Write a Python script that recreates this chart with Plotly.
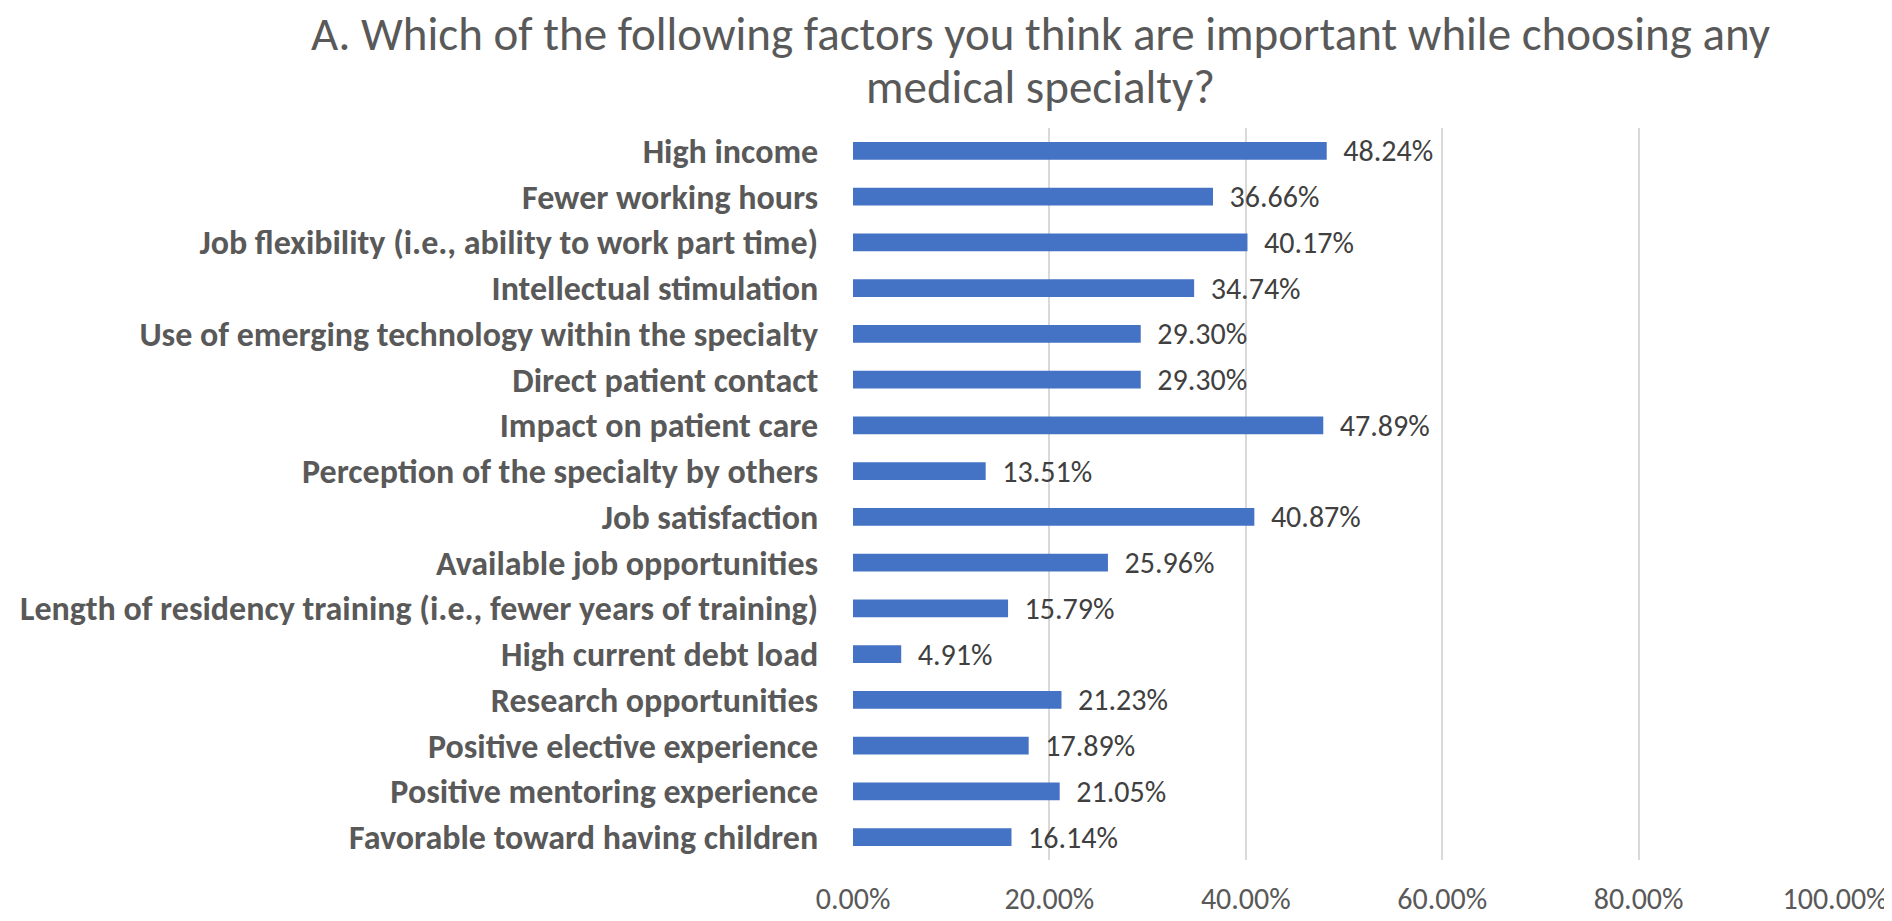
import plotly.graph_objects as go

# survey answers, top to bottom as in the chart
factors = [
    "High income",
    "Fewer working hours",
    "Job flexibility (i.e., ability to work part time)",
    "Intellectual stimulation",
    "Use of emerging technology within the specialty",
    "Direct patient contact",
    "Impact on patient care",
    "Perception of the specialty by others",
    "Job satisfaction",
    "Available job opportunities",
    "Length of residency training (i.e., fewer years of training)",
    "High current debt load",
    "Research opportunities",
    "Positive elective experience",
    "Positive mentoring experience",
    "Favorable toward having children",
]
percent = [48.24, 36.66, 40.17, 34.74, 29.30, 29.30, 47.89, 13.51,
           40.87, 25.96, 15.79, 4.91, 21.23, 17.89, 21.05, 16.14]

x_ticks = [0, 20, 40, 60, 80, 100]
x_tick_labels = ["0.00%", "20.00%", "40.00%", "60.00%", "80.00%", "100.00%"]

title_lines = [
    "A. Which of the following factors you think are important while choosing any",
    "medical specialty?",
]

FONT = "Carlito, 'Liberation Sans Narrow', 'DejaVu Sans Condensed', sans-serif"

fig = go.Figure()
fig.add_trace(go.Bar(
    y=factors,
    x=percent,
    orientation="h",
    width=0.385,
    marker=dict(color="#4472C4", line=dict(width=0)),
    # nbsp so the gap after the bar is not collapsed
    text=[f"\u00a0\u00a0{v:.2f}%" for v in percent],
    textposition="outside",
    constraintext="none",
    cliponaxis=False,
    textfont=dict(family=FONT, size=30, color="#404040"),
    hoverinfo="skip",
))

# two-line title as separate annotations (tighter line spacing, like Excel)
for line, ypos in zip(title_lines, [1.129, 1.056]):
    fig.add_annotation(
        text=line,
        xref="paper", yref="paper",
        x=0.1913, y=ypos,
        xanchor="center", yanchor="middle",
        showarrow=False,
        font=dict(family=FONT, size=47, color="#595959"),
    )

fig.update_layout(
    width=1892,
    height=921,
    paper_bgcolor="white",
    plot_bgcolor="white",
    showlegend=False,
    margin=dict(l=841, r=58, t=120, b=49),
)

fig.update_xaxes(
    range=[0, 100],
    tickvals=x_ticks,
    ticktext=x_tick_labels,
    showgrid=True,
    gridcolor="#D9D9D9",
    gridwidth=2,
    zeroline=False,
    showline=False,
    ticks="outside",
    ticklen=12,
    tickcolor="rgba(0,0,0,0)",
    tickfont=dict(family=FONT, size=30, color="#595959"),
)
fig.update_yaxes(
    categoryorder="array",
    categoryarray=factors[::-1],
    autorange=False,
    range=[-0.5, 15.5],
    showgrid=False,
    showline=False,
    ticks="outside",
    ticklen=27,
    tickcolor="rgba(0,0,0,0)",
    tickfont=dict(family=FONT, size=34, color="#595959", weight="bold"),
)

fig.write_html("out.html")
